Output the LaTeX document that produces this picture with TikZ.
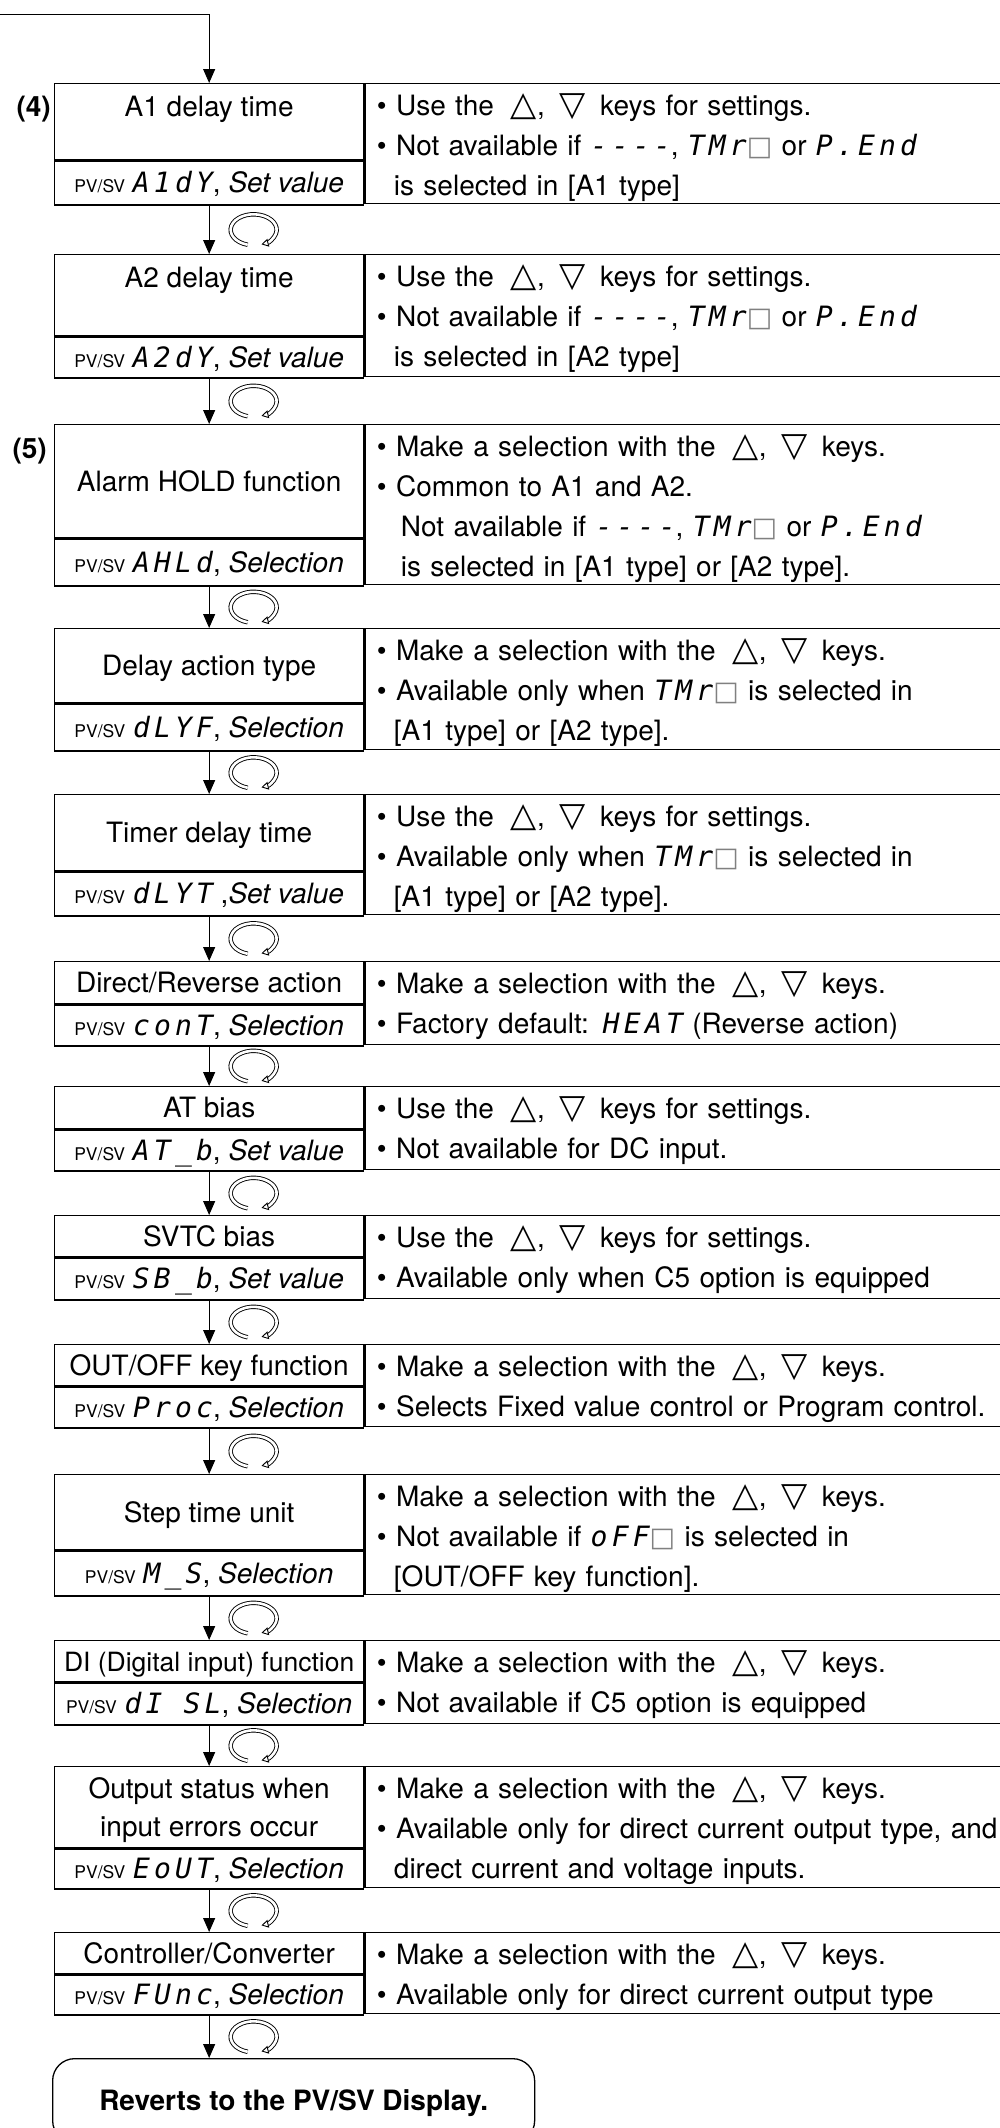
\documentclass[tikz,border=0pt]{standalone}
\usepackage{fontspec}
\setmainfont{TeX Gyre Heros}
\newfontfamily\symfont{DejaVu Sans}
\newfontfamily\segfont{DejaVu Sans Mono}[LetterSpace=15]
\usetikzlibrary{arrows.meta, positioning, calc}

\newcommand{\txtsize}{\fontsize{28pt}{40pt}\selectfont}
\newcommand{\seg}[1]{{\segfont\itshape #1}}
\newcommand{\blank}{{\symfont\fontsize{27pt}{40pt}\selectfont\color{gray}□}}
\newcommand{\pvsv}{{\fontsize{17.5pt}{20pt}\selectfont PV/SV}}
\newcommand{\tri}{\symfont\fontsize{34pt}{40pt}\selectfont}
\newcommand{\arrowkeys}{\hspace{17pt}{\tri △},\hspace{15pt}{\tri ▽}\hspace{14pt}}
\newcommand{\bul}{•\ }
\newcommand{\ind}{\hspace*{17pt}}

\tikzset{
  ttl/.style={rectangle, draw, line width=1.3pt, anchor=north west,
    minimum width=309pt, inner sep=0pt, align=center,
    text height=20pt, text depth=0pt},
  toptl/.style={text height=33pt},
  code/.style={ttl},
  note/.style={rectangle, draw, line width=1.3pt, anchor=north west,
    text width=700pt, inner xsep=12pt, inner ysep=0pt, align=left,
    text height=32pt},
  lbl/.style={font=\txtsize\bfseries, anchor=base east, inner sep=0pt},
  endbox/.style={rectangle, draw, line width=1.3pt, rounded corners=22pt,
    anchor=north west, minimum width=482pt, minimum height=84pt,
    font=\txtsize\bfseries, text height=20pt, text depth=0pt},
  flow/.style={-{Triangle[length=14pt,width=12pt]}, line width=1pt},
  spin/.style={double, double distance=2.6pt, line width=0.9pt,
    -{Triangle[open,length=7pt,width=8pt]}}
}

\begin{document}
\begin{tikzpicture}[x=1pt, y=-1pt, font=\txtsize]
  \useasboundingbox (0,0) rectangle (999,2128);

  % Line coming in from above
  \coordinate (entry) at (0,14);

  % (4) A1 delay time
  \node[ttl, toptl, text depth=43pt] (t1) at (54,83) {A1 delay time};
  \node[code, minimum height=44pt, below=0pt of t1] (c1) {\pvsv\ \seg{A1dY}, \textit{Set value}};
  \node[note, text depth=88pt] (n1) at (t1.north east)
    {\bul Use the\arrowkeys{}keys for settings.\\
     \bul Not available if \seg{----}, \seg{TMr}\blank{} or \seg{P.End}\\
     \ind is selected in [A1 type]};
  \node[lbl] (s4) at (51,116) {(4)};

  % A2 delay time
  \node[ttl, toptl, text depth=48pt] (t2) at (54,254) {A2 delay time};
  \node[code, minimum height=41pt, below=0pt of t2] (c2) {\pvsv\ \seg{A2dY}, \textit{Set value}};
  \node[note, text depth=90pt] (n2) at (t2.north east)
    {\bul Use the\arrowkeys{}keys for settings.\\
     \bul Not available if \seg{----}, \seg{TMr}\blank{} or \seg{P.End}\\
     \ind is selected in [A2 type]};

  % (5) Alarm HOLD function
  \node[ttl, minimum height=113pt] (t3) at (54,424) {Alarm HOLD function};
  \node[code, minimum height=47pt, below=0pt of t3] (c3) {\pvsv\ \seg{AHLd}, \textit{Selection}};
  \node[note, text depth=128pt] (n3) at (t3.north east)
    {\bul Make a selection with the\arrowkeys{}keys.\\
     \bul Common to A1 and A2.\\
     \hspace*{24pt}Not available if \seg{----}, \seg{TMr}\blank{} or \seg{P.End}\\
     \hspace*{24pt}is selected in [A1 type] or [A2 type].};
  \node[lbl] (s5) at (47,458) {(5)};

  % Delay action type
  \node[ttl, minimum height=74pt] (t4) at (54,628) {Delay action type};
  \node[code, minimum height=47pt, below=0pt of t4] (c4) {\pvsv\ \seg{dLYF}, \textit{Selection}};
  \node[note, text depth=89pt] (n4) at (t4.north east)
    {\bul Make a selection with the\arrowkeys{}keys.\\
     \bul Available only when \seg{TMr}\blank{} is selected in\\
     \ind [A1 type] or [A2 type].};

  % Timer delay time
  \node[ttl, minimum height=76pt] (t5) at (54,794) {Timer delay time};
  \node[code, minimum height=44pt, below=0pt of t5] (c5) {\pvsv\ \seg{dLYT} ,\textit{Set value}};
  \node[note, text depth=88pt] (n5) at (t5.north east)
    {\bul Use the\arrowkeys{}keys for settings.\\
     \bul Available only when \seg{TMr}\blank{} is selected in\\
     \ind [A1 type] or [A2 type].};

  % Direct/Reverse action
  \node[ttl, minimum height=42pt] (t6) at (54,961) {Direct/Reverse action};
  \node[code, minimum height=41pt, below=0pt of t6] (c6) {\pvsv\ \seg{conT}, \textit{Selection}};
  \node[note, text depth=51pt] (n6) at (t6.north east)
    {\bul Make a selection with the\arrowkeys{}keys.\\
     \bul Factory default: \seg{HEAT} (Reverse action)};

  % AT bias
  \node[ttl, minimum height=42pt] (t7) at (54,1086) {AT bias};
  \node[code, minimum height=41pt, below=0pt of t7] (c7) {\pvsv\ \seg{AT\_b}, \textit{Set value}};
  \node[note, text depth=51pt] (n7) at (t7.north east)
    {\bul Use the\arrowkeys{}keys for settings.\\
     \bul Not available for DC input.};

  % SVTC bias
  \node[ttl, minimum height=41pt] (t8) at (54,1215) {SVTC bias};
  \node[code, minimum height=42pt, below=0pt of t8] (c8) {\pvsv\ \seg{SB\_b}, \textit{Set value}};
  \node[note, text depth=51pt] (n8) at (t8.north east)
    {\bul Use the\arrowkeys{}keys for settings.\\
     \bul Available only when C5 option is equipped};

  % OUT/OFF key function
  \node[ttl, minimum height=41pt] (t9) at (54,1344) {OUT/OFF key function};
  \node[code, minimum height=41pt, below=0pt of t9] (c9) {\pvsv\ \seg{Proc}, \textit{Selection}};
  \node[note, text depth=50pt] (n9) at (t9.north east)
    {\bul Make a selection with the\arrowkeys{}keys.\\
     \bul Selects Fixed value control or Program control.};

  % Step time unit
  \node[ttl, minimum height=75pt] (t10) at (54,1474) {Step time unit};
  \node[code, minimum height=45pt, below=0pt of t10] (c10) {\pvsv\ \seg{M\_S}, \textit{Selection}};
  \node[note, text depth=88pt] (n10) at (t10.north east)
    {\bul Make a selection with the\arrowkeys{}keys.\\
     \bul Not available if \seg{oFF}\blank{} is selected in\\
     \ind [OUT/OFF key function].};

  % DI (Digital input) function
  \node[ttl, minimum height=41pt, font=\fontsize{26.5pt}{40pt}\selectfont] (t11) at (54,1640) {DI (Digital input) function};
  \node[code, minimum height=42pt, below=0pt of t11] (c11) {\pvsv\ \seg{dI SL}, \textit{Selection}};
  \node[note, text depth=51pt] (n11) at (t11.north east)
    {\bul Make a selection with the\arrowkeys{}keys.\\
     \bul Not available if C5 option is equipped};

  % Output status when input errors occur
  \node[ttl, minimum height=81pt, text height=58pt] (t12) at (54,1766)
    {Output status when\\[-2pt]input errors occur};
  \node[code, minimum height=40pt, below=0pt of t12] (c12) {\pvsv\ \seg{EoUT}, \textit{Selection}};
  \node[note, text depth=89pt] (n12) at (t12.north east)
    {\bul Make a selection with the\arrowkeys{}keys.\\
     \bul Available only for direct current output type, and\\
     \ind direct current and voltage inputs.};

  % Controller/Converter
  \node[ttl, minimum height=41pt] (t13) at (54,1932) {Controller/Converter};
  \node[code, minimum height=40pt, below=0pt of t13] (c13) {\pvsv\ \seg{FUnc}, \textit{Selection}};
  \node[note, text depth=49pt] (n13) at (t13.north east)
    {\bul Make a selection with the\arrowkeys{}keys.\\
     \bul Available only for direct current output type};

  % Back to the display
  \node[endbox] (fin) at (52,2058) {Reverts to the PV/SV Display.};

  % Connectors
  \draw[flow] (entry) -| (t1.north);
  \foreach \a/\b in {c1/t2, c2/t3, c3/t4, c4/t5, c5/t6, c6/t7, c7/t8,
                     c8/t9, c9/t10, c10/t11, c11/t12, c12/t13, c13/fin} {
    \draw[flow] (\a.south) -- (\a.south |- \b.north) coordinate (tip);
    \draw[spin] ($(\a.south)!0.5!(tip)+(44.5,0)$) ++(255:23pt and 15.5pt)
      arc[start angle=255, end angle=-70, x radius=23pt, y radius=15.5pt];
  }
\end{tikzpicture}
\end{document}
